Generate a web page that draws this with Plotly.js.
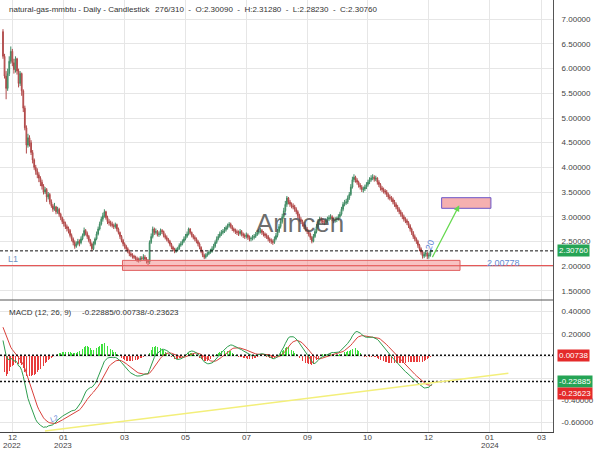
<!DOCTYPE html>
<html><head><meta charset="utf-8">
<script src="https://cdn.plot.ly/plotly-3.0.1.min.js"></script>
<style>html,body{margin:0;padding:0;background:#fff}#chart{width:600px;height:450px}</style>
</head><body><div id="chart"></div>
<script>
// ---- data (daily candles) ----
const firstOpen = 6.75;
const closes = [6.25,5.85,5.60,5.90,6.15,6.35,6.12,5.98,6.20,5.95,
5.70,5.90,5.55,5.20,4.80,4.45,4.60,4.50,4.30,4.15,
4.00,3.92,3.85,3.78,3.70,3.62,3.50,3.55,3.40,3.45,
3.30,3.22,3.15,3.20,3.10,3.15,3.05,2.98,2.90,2.86,
2.80,2.76,2.72,2.62,2.55,2.48,2.40,2.45,2.50,2.47,
2.55,2.62,2.72,2.66,2.60,2.52,2.45,2.35,2.45,2.55,
2.65,2.75,2.85,2.95,3.02,3.10,2.98,2.90,2.88,2.85,
2.82,2.80,2.84,2.75,2.68,2.60,2.52,2.45,2.40,2.35,
2.30,2.25,2.22,2.20,2.18,2.15,2.13,2.12,2.16,2.15,
2.18,2.14,2.10,2.08,2.48,2.60,2.75,2.68,2.70,2.64,
2.65,2.72,2.70,2.62,2.58,2.54,2.50,2.44,2.38,2.34,
2.30,2.33,2.35,2.42,2.45,2.50,2.55,2.60,2.65,2.75,
2.68,2.62,2.58,2.55,2.50,2.45,2.38,2.30,2.22,2.18,
2.22,2.25,2.28,2.30,2.35,2.40,2.48,2.55,2.60,2.65,
2.68,2.70,2.74,2.78,2.82,2.85,2.80,2.75,2.72,2.70,
2.68,2.66,2.70,2.65,2.62,2.60,2.63,2.58,2.55,2.56,
2.58,2.60,2.64,2.68,2.70,2.72,2.68,2.65,2.62,2.60,
2.55,2.52,2.50,2.48,2.55,2.62,2.70,2.80,2.90,3.00,
3.12,3.25,3.38,3.30,3.25,3.22,3.20,3.15,3.10,3.02,
2.95,2.90,2.85,2.80,2.75,2.70,2.65,2.58,2.50,2.60,
2.70,2.80,2.90,2.95,2.92,2.90,2.88,2.92,2.95,2.98,
3.00,2.96,2.92,2.94,2.95,3.00,3.05,3.15,3.25,3.28,
3.30,3.38,3.45,3.60,3.75,3.80,3.74,3.70,3.64,3.60,
3.55,3.56,3.60,3.65,3.70,3.75,3.78,3.80,3.76,3.78,
3.70,3.65,3.58,3.55,3.52,3.50,3.45,3.40,3.38,3.35,
3.30,3.25,3.20,3.15,3.10,3.05,3.00,2.95,2.92,2.88,
2.82,2.75,2.68,2.60,2.55,2.50,2.42,2.35,2.28,2.20,
2.24,2.26,2.20,2.22,2.3009,2.3076];
const highs = [6.80,6.30,5.95,6.00,6.25,6.45,6.40,6.20,6.25,6.22,
6.00,5.95,5.92,5.58,5.25,4.85,4.68,4.65,4.55,4.35,
4.18,4.05,3.98,3.90,3.82,3.75,3.66,3.60,3.58,3.50,
3.48,3.35,3.26,3.28,3.22,3.20,3.18,3.08,3.00,2.95,
2.90,2.84,2.80,2.75,2.66,2.58,2.52,2.50,2.55,2.54,
2.60,2.66,2.78,2.75,2.70,2.63,2.55,2.48,2.50,2.58,
2.70,2.80,2.90,3.00,3.08,3.15,3.12,3.02,2.95,2.92,
2.90,2.86,2.88,2.86,2.78,2.70,2.63,2.55,2.48,2.43,
2.38,2.33,2.28,2.26,2.23,2.21,2.19,2.17,2.20,2.20,
2.24,2.22,2.18,2.14,2.52,2.66,2.80,2.78,2.76,2.73,
2.70,2.76,2.75,2.72,2.66,2.62,2.57,2.53,2.47,2.41,
2.37,2.37,2.39,2.46,2.50,2.54,2.60,2.65,2.70,2.78,
2.77,2.70,2.65,2.62,2.58,2.53,2.48,2.40,2.33,2.25,
2.26,2.29,2.32,2.35,2.40,2.45,2.52,2.60,2.65,2.70,
2.73,2.75,2.79,2.82,2.86,2.89,2.88,2.83,2.78,2.76,
2.74,2.72,2.75,2.73,2.68,2.66,2.68,2.66,2.62,2.60,
2.63,2.65,2.69,2.73,2.75,2.77,2.75,2.71,2.68,2.66,
2.63,2.58,2.56,2.54,2.60,2.67,2.75,2.85,2.95,3.06,
3.18,3.32,3.42,3.40,3.34,3.29,3.27,3.24,3.19,3.13,
3.06,2.99,2.94,2.89,2.84,2.79,2.74,2.68,2.61,2.65,
2.75,2.85,2.95,3.00,2.99,2.96,2.94,2.97,3.00,3.03,
3.05,3.03,2.99,2.99,3.00,3.05,3.10,3.20,3.30,3.34,
3.36,3.43,3.50,3.66,3.81,3.86,3.83,3.78,3.73,3.68,
3.64,3.61,3.65,3.70,3.75,3.80,3.84,3.86,3.84,3.83,
3.80,3.74,3.68,3.62,3.59,3.56,3.54,3.49,3.45,3.42,
3.39,3.34,3.29,3.24,3.19,3.14,3.09,3.04,2.99,2.96,
2.91,2.85,2.78,2.71,2.64,2.58,2.53,2.45,2.38,2.31,
2.29,2.31,2.29,2.27,2.33,2.3128];
const lows = [6.20,5.80,5.38,5.55,5.85,6.10,6.05,5.90,5.92,5.88,
5.62,5.65,5.45,5.12,4.75,4.28,4.40,4.42,4.25,4.08,
3.95,3.85,3.78,3.70,3.62,3.55,3.45,3.46,3.30,3.35,
3.25,3.18,3.10,3.12,3.05,3.06,3.00,2.93,2.85,2.80,
2.75,2.70,2.66,2.58,2.50,2.42,2.35,2.37,2.42,2.40,
2.44,2.52,2.60,2.62,2.55,2.48,2.40,2.30,2.32,2.42,
2.52,2.62,2.72,2.82,2.90,2.98,2.94,2.85,2.82,2.80,
2.78,2.75,2.76,2.70,2.64,2.55,2.48,2.40,2.35,2.30,
2.26,2.20,2.18,2.15,2.14,2.11,2.08,2.07,2.09,2.10,
2.12,2.10,2.05,2.02,2.04,2.45,2.56,2.63,2.64,2.60,
2.59,2.62,2.65,2.58,2.54,2.50,2.46,2.40,2.34,2.30,
2.26,2.27,2.30,2.33,2.39,2.42,2.47,2.52,2.57,2.62,
2.64,2.58,2.54,2.50,2.46,2.40,2.34,2.26,2.18,2.14,
2.15,2.19,2.22,2.25,2.27,2.32,2.37,2.45,2.52,2.57,
2.61,2.64,2.67,2.70,2.74,2.78,2.76,2.71,2.68,2.65,
2.63,2.61,2.62,2.60,2.57,2.55,2.56,2.53,2.50,2.50,
2.52,2.54,2.57,2.61,2.64,2.66,2.63,2.60,2.57,2.55,
2.50,2.47,2.45,2.43,2.45,2.52,2.58,2.67,2.76,2.86,
2.96,3.08,3.20,3.25,3.20,3.17,3.15,3.10,3.05,2.97,
2.90,2.85,2.80,2.75,2.70,2.65,2.60,2.53,2.46,2.48,
2.57,2.66,2.76,2.86,2.87,2.85,2.83,2.84,2.88,2.91,
2.94,2.91,2.87,2.88,2.89,2.92,2.97,3.02,3.11,3.21,
3.24,3.26,3.34,3.42,3.57,3.70,3.69,3.65,3.59,3.55,
3.50,3.49,3.52,3.56,3.61,3.66,3.71,3.74,3.71,3.72,
3.65,3.60,3.53,3.50,3.47,3.45,3.40,3.35,3.33,3.30,
3.25,3.20,3.15,3.10,3.05,3.00,2.95,2.90,2.87,2.83,
2.77,2.70,2.63,2.55,2.50,2.45,2.37,2.30,2.23,2.15,
2.16,2.19,2.14,2.15,2.19,2.2823];

// MACD(12,26,9) state before the first visible bar
const ema12Seed = 6.58, ema26Seed = 6.40, signalSeed = 0.29;

// x-axis ticks (bar index positions) and labels
const tickPos = [5.9, 38.5, 77.8, 117.1, 156.3, 195.1, 233.6, 272.8, 312.1, 345.2];
const tickMonths = ['12','01','03','05','07','09','10','12','01','03'];
const tickYears = ['2022','2023','','','','','','','2024',''];
const priceTicks = [1.5,2.0,2.5,3.0,3.5,4.0,4.5,5.0,5.5,6.0,6.5,7.0];
const macdTicks = [0.4,0.2,0,-0.2,-0.4,-0.6];
const macdTickText = ['0.40000','0.20000','','','-0.40000','-0.60000'];

// drawings (in data units)
const levelL1 = 2.00778;
const lastClose = 2.3076;
const macdLast = -0.22885, histLast = 0.00738, signalLast = -0.23623;
const supportZoneX = [76.6, 293], supportZoneY = [1.912, 2.115];
const targetZoneX = [281.2, 312.8], targetZoneY = [3.17, 3.385];
const arrowFrom = [274.8, 2.151], arrowTo = [292.5, 3.232];
const trendX = [26.9, 324], trendY = [-0.675, -0.155];

// ---- build ----
const idx = closes.map((_, i) => i);
const opens = closes.map((c, i) => i === 0 ? firstOpen : closes[i - 1]);
let e12 = ema12Seed, e26 = ema26Seed, sg = signalSeed;
const macd = [], signal = [], hist = [];
closes.forEach(c => {
  e12 += (2 / 13) * (c - e12);
  e26 += (2 / 27) * (c - e26);
  const m = e12 - e26;
  sg += 0.2 * (m - sg);
  macd.push(m); signal.push(sg); hist.push(m - sg);
});

const PW = 553, PH = 432;
const px = v => v / PW, py = v => 1 - v / PH;
const splitY = 1 - 300 / PH;
const FF = 'Liberation Sans, Arial, sans-serif';

const traces = [
  {type:'candlestick', x:idx, open:opens, high:highs, low:lows, close:closes,
   xaxis:'x', yaxis:'y', hoverinfo:'skip', whiskerwidth:0,
   increasing:{line:{color:'#3f8a63', width:1}, fillcolor:'#7fd3a3'},
   decreasing:{line:{color:'#b04848', width:1}, fillcolor:'#e88a8a'}},
  {type:'bar', x:idx, y:hist, xaxis:'x', yaxis:'y2', width:0.55, hoverinfo:'skip',
   marker:{color:hist.map(h => h >= 0 ? '#3ee03e' : '#e83c3c'), line:{width:0}}},
  {type:'scatter', mode:'lines', x:idx, y:signal, xaxis:'x', yaxis:'y2', hoverinfo:'skip',
   line:{color:'#d9403a', width:1}},
  {type:'scatter', mode:'lines', x:idx, y:macd, xaxis:'x', yaxis:'y2', hoverinfo:'skip',
   line:{color:'#2e9e4f', width:1}}
];

const axFont = {family:FF, size:8, color:'#444'};
const sep = '&nbsp; -&nbsp; ';
const annotations = [
  {xref:'paper', yref:'paper', x:px(7), y:py(10), xanchor:'left', yanchor:'middle', showarrow:false,
    text:'natural-gas-mmbtu - Daily - Candlestick', font:{size:8, color:'#333'}},
  {xref:'paper', yref:'paper', x:px(153), y:py(10), xanchor:'left', yanchor:'middle', showarrow:false,
    text:'276/310' + sep + 'O:2.30090' + sep + 'H:2.31280' + sep + 'L:2.28230' + sep + 'C:2.30760', font:{size:8, color:'#333'}},
  {xref:'paper', yref:'paper', x:px(7), y:py(312), xanchor:'left', yanchor:'middle', showarrow:false,
    text:'MACD (12, 26, 9)', font:{size:8, color:'#333'}},
  {xref:'paper', yref:'paper', x:px(80), y:py(312), xanchor:'left', yanchor:'middle', showarrow:false,
    text:'-0.22885/0.00738/-0.23623', font:{size:8, color:'#333'}},
  {xref:'paper', yref:'paper', x:px(300), y:py(223), xanchor:'center', yanchor:'middle', showarrow:false,
    text:'Arincen', font:{size:26, color:'rgba(70,70,70,0.8)', family:FF}},
  {xref:'paper', yref:'paper', x:px(6), y:py(259), xanchor:'left', yanchor:'middle', showarrow:false,
    text:'L1', font:{size:9, color:'#6f93c4'}},
  {xref:'paper', yref:'paper', x:px(503), y:py(263), xanchor:'center', yanchor:'middle', showarrow:false,
    text:'2.00778', font:{size:9, color:'#5f8ad2'}},
  {xref:'paper', yref:'paper', x:px(430), y:py(245), xanchor:'center', yanchor:'middle', showarrow:false,
    text:'20', textangle:-70, font:{size:9, color:'#5f86d6'}},
  {xref:'paper', yref:'paper', x:px(54), y:py(418), xanchor:'center', yanchor:'middle', showarrow:false,
    text:'L2', textangle:-20, font:{size:7, color:'#5f86d6'}},
  {xref:'x', yref:'y', axref:'x', ayref:'y', x:arrowTo[0], y:arrowTo[1], ax:arrowFrom[0], ay:arrowFrom[1],
    showarrow:true, arrowhead:2, arrowsize:1, arrowwidth:1.2, arrowcolor:'#66d94f', text:''},
  {xref:'paper', yref:'y', x:1, y:lastClose, xanchor:'left', yanchor:'middle', xshift:4, showarrow:false,
    text:'2.30760', bgcolor:'#25a455', borderpad:1, font:{size:8, color:'#fff'}},
  {xref:'paper', yref:'y2', x:1, y:histLast, xanchor:'left', yanchor:'middle', xshift:4, showarrow:false,
    text:'0.00738', bgcolor:'#e42a2a', borderpad:1, font:{size:8, color:'#fff'}},
  {xref:'paper', yref:'y2', x:1, y:macdLast, xanchor:'left', yanchor:'middle', xshift:4, showarrow:false,
    text:'-0.22885', bgcolor:'#25a455', borderpad:1, font:{size:8, color:'#fff'}},
  {xref:'paper', yref:'y2', x:1, y:signalLast, xanchor:'left', yanchor:'middle', xshift:4, yshift:-11, showarrow:false,
    text:'-0.23623', bgcolor:'#e42a2a', borderpad:1, font:{size:8, color:'#fff'}}
];
tickPos.forEach((p, k) => {
  annotations.push({xref:'x', yref:'paper', x:p, y:py(437.5), xanchor:'center', yanchor:'middle', showarrow:false,
    text:tickMonths[k], font:{size:8, color:'#444'}});
  if (tickYears[k]) annotations.push({xref:'x', yref:'paper', x:p, y:py(445.5), xanchor:'center', yanchor:'middle',
    showarrow:false, text:tickYears[k], font:{size:8, color:'#444'}});
});

const layout = {
  width:600, height:450, margin:{l:0, r:47, t:0, b:18},
  paper_bgcolor:'#ffffff', plot_bgcolor:'#ffffff', showlegend:false, bargap:0,
  font:{family:FF, size:8, color:'#333'},
  xaxis:{range:[-1.92, 352.6], anchor:'y2', tickmode:'array', tickvals:tickPos, showticklabels:false,
    showgrid:true, gridcolor:'#e6e6e6', zeroline:false, showline:true, linecolor:'#444', linewidth:1,
    ticks:'', rangeslider:{visible:false}, fixedrange:true},
  yaxis:{domain:[splitY, 1], range:[1.312, 7.391], side:'right', anchor:'x', tickmode:'array',
    tickvals:priceTicks, tickformat:'.5f', showgrid:true, gridcolor:'#e6e6e6', zeroline:false,
    showline:true, linecolor:'#555', ticks:'', tickfont:axFont, ticklabelstandoff:6},
  yaxis2:{domain:[0, splitY], range:[-0.684, 0.505], side:'right', anchor:'x', tickmode:'array',
    tickvals:macdTicks, ticktext:macdTickText, showgrid:true, gridcolor:'#e6e6e6', zeroline:false,
    showline:true, linecolor:'#555', ticks:'', tickfont:axFont, ticklabelstandoff:6},
  shapes:[
    {type:'line', xref:'paper', yref:'paper', x0:0, x1:1, y0:splitY, y1:splitY, line:{color:'#555', width:1}},
    {type:'line', xref:'paper', yref:'y', x0:0, x1:1, y0:levelL1, y1:levelL1, line:{color:'#e03a3a', width:1}},
    {type:'rect', xref:'x', yref:'y', x0:supportZoneX[0], x1:supportZoneX[1], y0:supportZoneY[0], y1:supportZoneY[1],
      fillcolor:'rgba(240,120,120,0.45)', line:{color:'#e06060', width:1}},
    {type:'rect', xref:'x', yref:'y', x0:targetZoneX[0], x1:targetZoneX[1], y0:targetZoneY[0], y1:targetZoneY[1],
      fillcolor:'rgba(242,150,150,0.75)', line:{color:'#6a55c8', width:1}},
    {type:'line', xref:'paper', yref:'y', x0:0, x1:1, y0:lastClose, y1:lastClose, line:{color:'#111', width:1, dash:'3px,2px'}},
    {type:'line', xref:'paper', yref:'y2', x0:0, x1:1, y0:histLast, y1:histLast, line:{color:'#111', width:1.5, dash:'2px,2px'}},
    {type:'line', xref:'paper', yref:'y2', x0:0, x1:1, y0:macdLast, y1:macdLast, line:{color:'#111', width:1.5, dash:'2px,2px'}},
    {type:'line', xref:'x', yref:'y2', x0:trendX[0], x1:trendX[1], y0:trendY[0], y1:trendY[1], line:{color:'#f3ef7a', width:1.5}}
  ],
  annotations: annotations
};

Plotly.newPlot('chart', traces, layout, {staticPlot:true, displayModeBar:false});
</script>
</body></html>
